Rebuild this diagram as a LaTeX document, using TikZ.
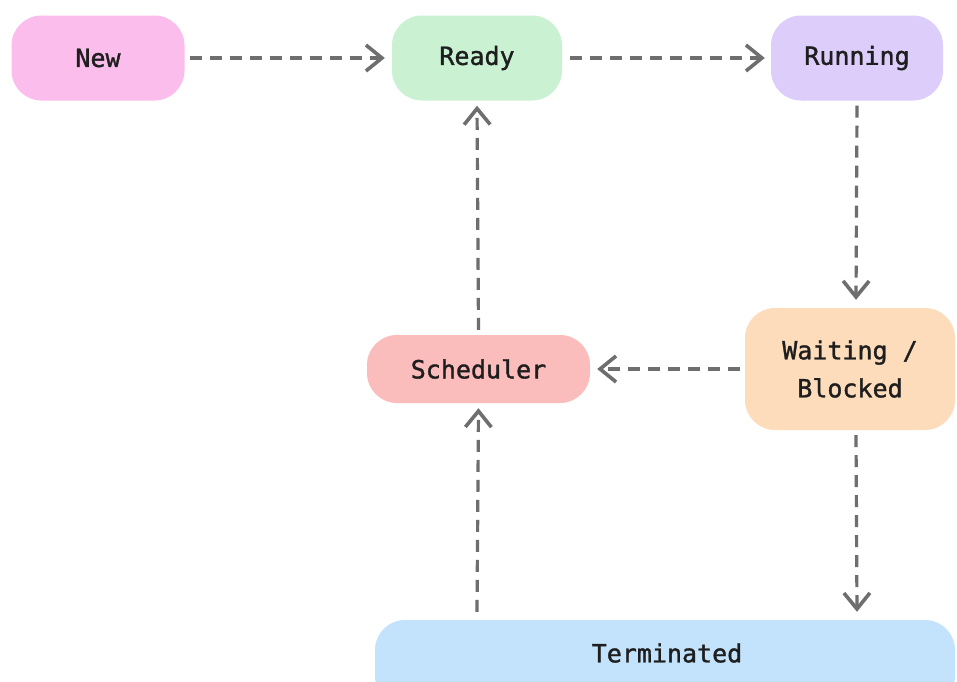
\documentclass[tikz,border=0pt]{standalone}
\usepackage{fontspec}
\setmonofont[FakeBold=1.3]{DejaVu Sans Mono}
\usetikzlibrary{arrows.meta}
\definecolor{cNew}{HTML}{FBBDEB}
\definecolor{cReady}{HTML}{C9F1D2}
\definecolor{cRun}{HTML}{DCCDFB}
\definecolor{cSched}{HTML}{FBBDBB}
\definecolor{cWait}{HTML}{FDDCBC}
\definecolor{cTerm}{HTML}{C2E3FB}
\definecolor{cLine}{HTML}{6E6E6E}
\definecolor{cText}{HTML}{1E1E1E}
\tikzset{
  state/.style={rounded corners=30pt, inner sep=0pt, align=center,
    font=\ttfamily\fontsize{25}{38}\selectfont, text=cText},
  flow/.style={draw=cLine, line width=3.2pt, dash pattern=on 12pt off 8pt,
    -{Straight Barb[length=16pt, width=26pt, line width=3.6pt]}},
}
\begin{document}
\begin{tikzpicture}[x=1pt, y=-1pt]
\useasboundingbox[fill=white] (0,0) rectangle (957,681);
% states
\node[state, fill=cNew, minimum width=173pt, minimum height=85pt] (new) at (98,58) {New};
\node[state, fill=cReady, minimum width=170pt, minimum height=85pt] (ready) at (477,58) {Ready};
\node[state, fill=cRun, minimum width=172pt, minimum height=85pt] (run) at (857,58) {Running};
\node[state, fill=cSched, minimum width=223pt, minimum height=68pt] (sched) at (478.5,369) {Scheduler};
\node[state, fill=cWait, minimum width=210pt, minimum height=122pt] (wait) at (850,369) {Waiting /\\Blocked};
\node[state, fill=cTerm, minimum width=580pt, minimum height=86pt] (term) at (665,663) {};
\node[font=\ttfamily\fontsize{25}{30}\selectfont, text=cText] (termlbl) at (667,653) {Terminated};
% transitions
\draw[flow] ([xshift=5pt]new.east) -- ([xshift=-7pt]ready.west);
\draw[flow] ([xshift=8pt]ready.east) -- ([xshift=-6pt]run.west);
\draw[flow] ([yshift=-5pt]run.south) -- ([xshift=6pt,yshift=8pt]wait.north);
\draw[flow] ([xshift=-5pt]wait.west) -- ([xshift=7pt]sched.east);
\draw[flow] ([yshift=5pt]sched.north) -- ([yshift=-5pt]ready.south);
\draw[flow] ([xshift=6pt,yshift=-5pt]wait.south) -- ([xshift=192pt,yshift=8pt]term.north);
\draw[flow] ([xshift=-188pt,yshift=8pt]term.north) -- ([yshift=-5pt]sched.south);
\end{tikzpicture}
\end{document}
